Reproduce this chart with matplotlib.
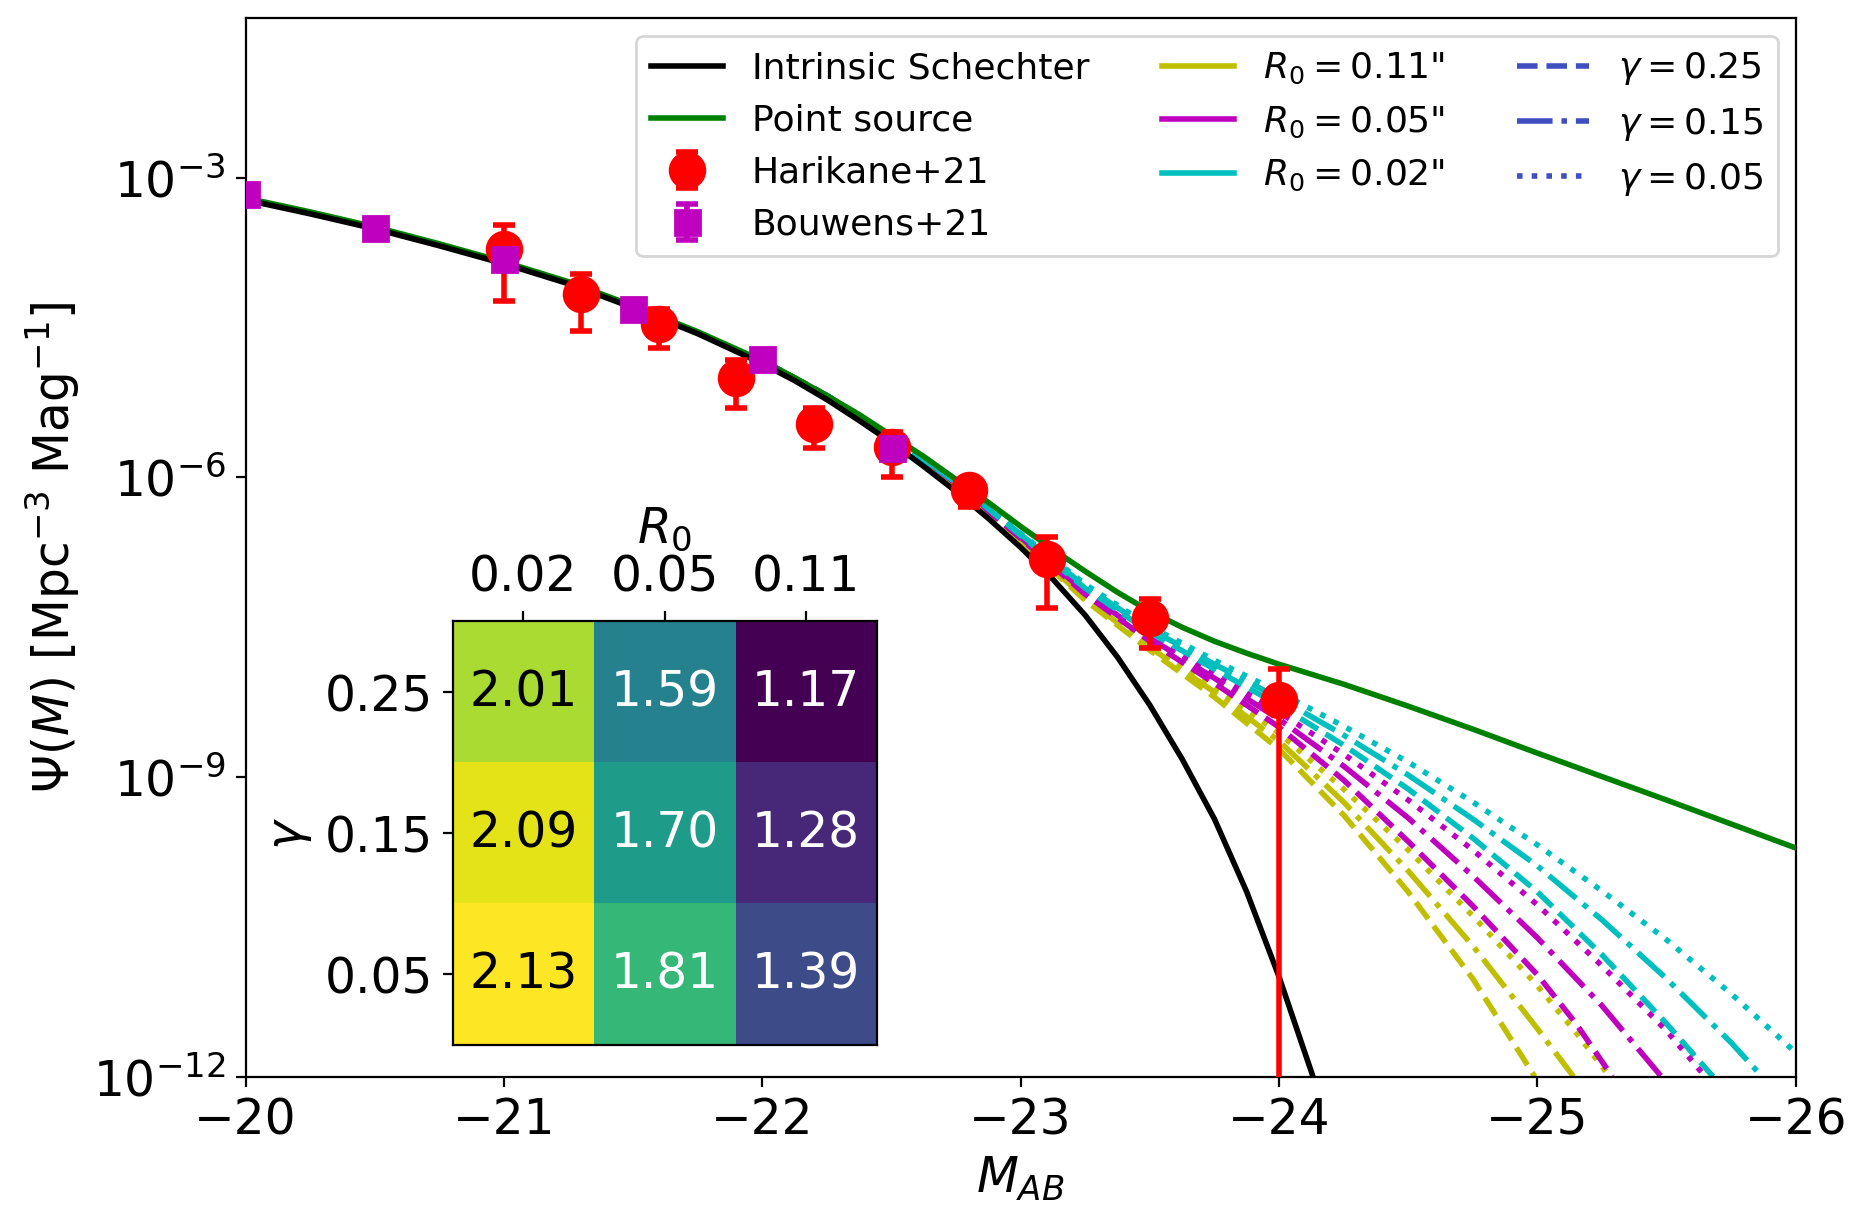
import numpy as np
import matplotlib
matplotlib.use("Agg")
import matplotlib.pyplot as plt
from matplotlib.lines import Line2D
from matplotlib.ticker import NullLocator

# all curve values are log10(Psi)

# intrinsic Schechter (black)
m_int = [-20.0, -20.25, -20.5, -20.75, -21.0, -21.25, -21.5, -21.75, -22.0, -22.125, -22.25,
         -22.375, -22.5, -22.625, -22.75, -22.875, -23.0, -23.125, -23.25, -23.375, -23.5,
         -23.625, -23.75, -23.875, -24.0, -24.125, -24.2]
lg_int = [-3.22, -3.36, -3.51, -3.68, -3.86, -4.06, -4.30, -4.56, -4.86, -5.03, -5.22,
          -5.43, -5.65, -5.89, -6.14, -6.41, -6.70, -7.02, -7.38, -7.80, -8.28,
          -8.82, -9.42, -10.15, -11.0, -11.95, -12.55]

# point source (green)
m_ps = [-20.0, -20.25, -20.5, -20.75, -21.0, -21.25, -21.5, -21.75, -22.0, -22.125, -22.25,
        -22.375, -22.5, -22.625, -22.75, -22.875, -23.0, -23.125, -23.25, -23.375, -23.5,
        -23.625, -23.75, -23.875, -24.0, -24.25, -24.5, -24.75, -25.0, -25.5, -26.0]
lg_ps = [-3.20, -3.34, -3.49, -3.66, -3.84, -4.04, -4.28, -4.54, -4.83, -5.00, -5.18,
         -5.37, -5.58, -5.79, -6.02, -6.25, -6.49, -6.72, -6.94, -7.15, -7.34,
         -7.50, -7.64, -7.76, -7.87, -8.07, -8.29, -8.52, -8.76, -9.23, -9.71]

# lensed curves, named by R0 and gamma
m_r02_g05 = [-22.0, -22.25, -22.5, -22.75, -23.0, -23.25, -23.5, -23.75, -24.0, -24.25,
             -24.5, -24.75, -25.0, -25.25, -25.5, -25.75, -26.0]
lg_r02_g05 = [-4.83, -5.18, -5.60, -6.04, -6.56, -7.07, -7.49, -7.83, -8.15, -8.49,
              -8.85, -9.25, -9.68, -10.14, -10.63, -11.17, -11.76]
m_r02_g15 = [-22.0, -22.25, -22.5, -22.75, -23.0, -23.25, -23.5, -23.75, -24.0, -24.25,
             -24.5, -24.75, -25.0, -25.25, -25.5, -25.75, -25.87]
lg_r02_g15 = [-4.83, -5.18, -5.60, -6.04, -6.57, -7.09, -7.52, -7.87, -8.21, -8.58,
              -8.98, -9.42, -9.89, -10.43, -11.02, -11.66, -12.0]
m_r02_g25 = [-22.0, -22.25, -22.5, -22.75, -23.0, -23.25, -23.5, -23.75, -24.0, -24.25,
             -24.5, -24.75, -25.0, -25.25, -25.5, -25.68]
lg_r02_g25 = [-4.83, -5.18, -5.60, -6.05, -6.58, -7.11, -7.55, -7.92, -8.28, -8.68,
              -9.12, -9.61, -10.15, -10.78, -11.47, -12.0]

m_r05_g05 = [-22.0, -22.25, -22.5, -22.75, -23.0, -23.25, -23.5, -23.75, -24.0, -24.25,
             -24.5, -24.75, -25.0, -25.25, -25.5, -25.65]
lg_r05_g05 = [-4.83, -5.18, -5.60, -6.05, -6.59, -7.13, -7.58, -7.97, -8.35, -8.77,
              -9.23, -9.73, -10.28, -10.89, -11.54, -12.0]
m_r05_g15 = [-22.0, -22.25, -22.5, -22.75, -23.0, -23.25, -23.5, -23.75, -24.0, -24.25,
             -24.5, -24.75, -25.0, -25.25, -25.48]
lg_r05_g15 = [-4.83, -5.18, -5.60, -6.05, -6.60, -7.15, -7.61, -8.01, -8.42, -8.89,
              -9.41, -9.99, -10.61, -11.29, -12.0]
m_r05_g25 = [-22.0, -22.25, -22.5, -22.75, -23.0, -23.25, -23.5, -23.75, -24.0, -24.25,
             -24.5, -24.75, -25.0, -25.15, -25.29]
lg_r05_g25 = [-4.83, -5.18, -5.60, -6.06, -6.61, -7.17, -7.64, -8.06, -8.50, -9.03,
              -9.645, -10.29, -10.98, -11.47, -12.0]

m_r11_g05 = [-22.0, -22.25, -22.5, -22.75, -23.0, -23.25, -23.5, -23.75, -24.0, -24.25,
             -24.5, -24.75, -25.0, -25.15, -25.28]
lg_r11_g05 = [-4.83, -5.18, -5.60, -6.06, -6.62, -7.19, -7.67, -8.10, -8.56, -9.12,
              -9.73, -10.39, -11.09, -11.56, -12.0]
m_r11_g15 = [-22.0, -22.25, -22.5, -22.75, -23.0, -23.25, -23.5, -23.75, -24.0, -24.25,
             -24.5, -24.75, -25.0, -25.14]
lg_r11_g15 = [-4.83, -5.18, -5.60, -6.07, -6.63, -7.21, -7.70, -8.15, -8.64, -9.25,
              -9.94, -10.69, -11.52, -12.0]
m_r11_g25 = [-22.0, -22.25, -22.5, -22.75, -23.0, -23.25, -23.5, -23.75, -24.0, -24.25,
             -24.5, -24.75, -24.99]
lg_r11_g25 = [-4.83, -5.18, -5.60, -6.07, -6.64, -7.23, -7.73, -8.20, -8.72, -9.38,
              -10.15, -11.02, -12.0]

# Harikane+21 points (log10), upper and lower ends of the error bars
m_har = [-21.0, -21.3, -21.6, -21.9, -22.2, -22.5, -22.8, -23.1, -23.5, -24.0]
lg_har = [-3.71, -4.16, -4.46, -5.00, -5.46, -5.69, -6.13, -6.82, -7.41, -8.225]
lg_har_hi = [-3.47, -3.965, -4.31, -4.82, -5.30, -5.54, -6.04, -6.60, -7.22, -7.92]
lg_har_lo = [-4.23, -4.53, -4.70, -5.30, -5.70, -6.00, -6.30, -7.31, -7.71, -99.0]  # last one runs off the axis

# Bouwens+21 points
m_bou = [-20.0, -20.5, -21.0, -21.5, -22.0, -22.5]
lg_bou = [-3.157, -3.50, -3.815, -4.31, -4.81, -5.70]
lg_bou_err = [0.06, 0.06, 0.06, 0.06, 0.07, 0.08]

# inset table
r0_labels = ["0.02", "0.05", "0.11"]
gamma_labels = ["0.25", "0.15", "0.05"]
chi_vals = [[2.01, 1.59, 1.17],
            [2.09, 1.70, 1.28],
            [2.13, 1.81, 1.39]]

r0_legend = ["0.11", "0.05", "0.02"]
gamma_legend = ["0.25", "0.15", "0.05"]


def main():
    fig = plt.figure(figsize=(9.34, 6.115), dpi=200)
    ax = fig.add_axes([0.1315, 0.1197, 0.8298, 0.8656])

    lensed = [
        (m_r11_g25, lg_r11_g25, "y", "--"), (m_r11_g15, lg_r11_g15, "y", "-."), (m_r11_g05, lg_r11_g05, "y", ":"),
        (m_r05_g25, lg_r05_g25, "m", "--"), (m_r05_g15, lg_r05_g15, "m", "-."), (m_r05_g05, lg_r05_g05, "m", ":"),
        (m_r02_g25, lg_r02_g25, "c", "--"), (m_r02_g15, lg_r02_g15, "c", "-."), (m_r02_g05, lg_r02_g05, "c", ":"),
    ]
    for m, lg, col, ls in lensed:
        ax.plot(m, 10 ** np.array(lg), color=col, ls=ls, lw=2, zorder=2)

    ax.plot(m_ps, 10 ** np.array(lg_ps), color="g", lw=2, zorder=3)
    ax.plot(m_int, 10 ** np.array(lg_int), color="k", lw=2, zorder=3)

    phi_h = 10 ** np.array(lg_har)
    err_h = [phi_h - 10 ** np.array(lg_har_lo), 10 ** np.array(lg_har_hi) - phi_h]
    eb_h = ax.errorbar(m_har, phi_h, yerr=err_h, fmt="o", color="r", ms=12.5,
                       capsize=4, elinewidth=2, capthick=2, zorder=4)

    phi_b = 10 ** np.array(lg_bou)
    be = np.array(lg_bou_err)
    err_b = [phi_b - 10 ** (np.array(lg_bou) - be), 10 ** (np.array(lg_bou) + be) - phi_b]
    eb_b = ax.errorbar(m_bou, phi_b, yerr=err_b, fmt="s", color="m", ms=9,
                       capsize=4, elinewidth=2, capthick=2, zorder=5)

    ax.set_yscale("log")
    ax.set_xlim(-20, -26)
    ax.set_ylim(1e-12, 4e-2)
    ax.set_yticks([1e-12, 1e-9, 1e-6, 1e-3])
    ax.yaxis.set_minor_locator(NullLocator())
    ax.set_xticks([-20, -21, -22, -23, -24, -25, -26])
    ax.tick_params(labelsize=17.5)
    ax.set_xlabel(r"$M_{AB}$", fontsize=17.5)
    ax.set_ylabel(r"$\Psi(M)$ [Mpc$^{-3}$ Mag$^{-1}$]", fontsize=17.5)

    gcol = "#3f4fc2"
    handles = [Line2D([], [], color="k", lw=2), Line2D([], [], color="g", lw=2), eb_h, eb_b]
    labels = ["Intrinsic Schechter", "Point source", "Harikane+21", "Bouwens+21"]
    for col, r in zip(["y", "m", "c"], r0_legend):
        handles.append(Line2D([], [], color=col, lw=2))
        labels.append(r"$R_0=%s$" % r + '"')
    for ls, g in zip(["--", "-.", ":"], gamma_legend):
        handles.append(Line2D([], [], color=gcol, ls=ls, lw=2))
        labels.append(r"$\gamma=%s$" % g)
    ax.legend(handles, labels, ncol=3, fontsize=13, loc="upper right")

    # inset table
    ax_in = fig.add_axes([0.2423, 0.1455, 0.2271, 0.3464])
    arr = np.array(chi_vals)
    ax_in.imshow(arr, cmap="viridis", aspect="auto")
    for i in range(arr.shape[0]):
        for j in range(arr.shape[1]):
            tc = "k" if arr[i, j] > 1.9 else "w"
            ax_in.text(j, i, "%.2f" % arr[i, j], ha="center", va="center", color=tc, fontsize=17.5)
    ax_in.set_xticks(range(len(r0_labels)))
    ax_in.set_xticklabels(r0_labels)
    ax_in.set_yticks(range(len(gamma_labels)))
    ax_in.set_yticklabels(gamma_labels)
    ax_in.xaxis.tick_top()
    ax_in.xaxis.set_label_position("top")
    ax_in.tick_params(labelsize=17.5)
    ax_in.set_xlabel(r"$R_0$", fontsize=17.5)
    ax_in.set_ylabel(r"$\gamma$", fontsize=17.5)

    fig.savefig("out.png", dpi=200)


main()
